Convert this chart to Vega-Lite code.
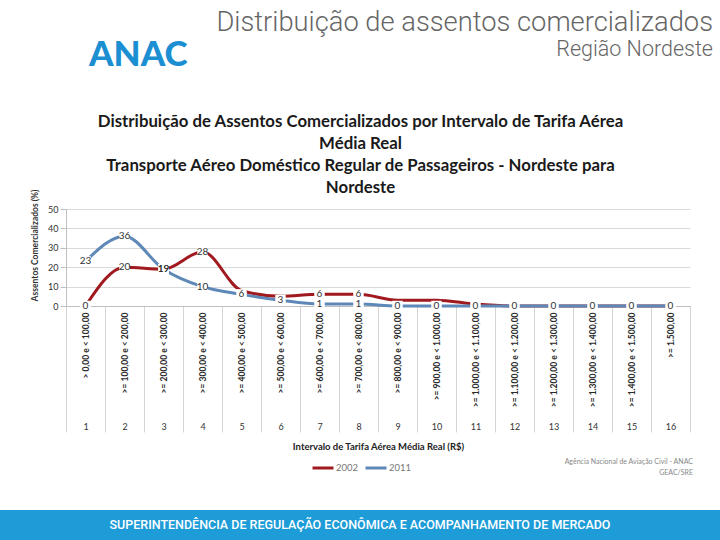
{
  "$schema": "https://vega.github.io/schema/vega-lite/v6.json",
  "autosize": {"type": "pad"},
  "padding": {"left": 0, "top": 9, "right": 0, "bottom": 0},
  "background": "white",
  "bounds": "flush",
  "spacing": 301,
  "title": {
    "text": "Distribuição de assentos comercializados",
    "subtitle": "Região Nordeste",
    "anchor": "end",
    "frame": "bounds",
    "font": "Roboto",
    "fontSize": 27.3,
    "fontWeight": 300,
    "color": "#666666",
    "subtitleFont": "Roboto",
    "subtitleFontSize": 21.5,
    "subtitleFontWeight": 300,
    "subtitleColor": "#666666",
    "subtitlePadding": 3,
    "offset": -23,
    "dx": -7
  },
  "datasets": {
    "assentos": [
      {"n": 1, "faixa": "> 0,00 e < 100,00", "ano": "2002", "valor": 0},
      {"n": 2, "faixa": ">= 100,00 e < 200,00", "ano": "2002", "valor": 20},
      {"n": 3, "faixa": ">= 200,00 e < 300,00", "ano": "2002", "valor": 19},
      {"n": 4, "faixa": ">= 300,00 e < 400,00", "ano": "2002", "valor": 28},
      {"n": 5, "faixa": ">= 400,00 e < 500,00", "ano": "2002", "valor": 8},
      {"n": 6, "faixa": ">= 500,00 e < 600,00", "ano": "2002", "valor": 5},
      {"n": 7, "faixa": ">= 600,00 e < 700,00", "ano": "2002", "valor": 6},
      {"n": 8, "faixa": ">= 700,00 e < 800,00", "ano": "2002", "valor": 6},
      {"n": 9, "faixa": ">= 800,00 e < 900,00", "ano": "2002", "valor": 3},
      {"n": 10, "faixa": ">= 900,00 e < 1.000,00", "ano": "2002", "valor": 3},
      {"n": 11, "faixa": ">= 1.000,00 e < 1.100,00", "ano": "2002", "valor": 1},
      {"n": 12, "faixa": ">= 1.100,00 e < 1.200,00", "ano": "2002", "valor": 0},
      {"n": 13, "faixa": ">= 1.200,00 e < 1.300,00", "ano": "2002", "valor": 0},
      {"n": 14, "faixa": ">= 1.300,00 e < 1.400,00", "ano": "2002", "valor": 0},
      {"n": 15, "faixa": ">= 1.400,00 e < 1.500,00", "ano": "2002", "valor": 0},
      {"n": 16, "faixa": ">= 1.500,00", "ano": "2002", "valor": 0},
      {"n": 1, "faixa": "> 0,00 e < 100,00", "ano": "2011", "valor": 23},
      {"n": 2, "faixa": ">= 100,00 e < 200,00", "ano": "2011", "valor": 36},
      {"n": 3, "faixa": ">= 200,00 e < 300,00", "ano": "2011", "valor": 19},
      {"n": 4, "faixa": ">= 300,00 e < 400,00", "ano": "2011", "valor": 10},
      {"n": 5, "faixa": ">= 400,00 e < 500,00", "ano": "2011", "valor": 6},
      {"n": 6, "faixa": ">= 500,00 e < 600,00", "ano": "2011", "valor": 3},
      {"n": 7, "faixa": ">= 600,00 e < 700,00", "ano": "2011", "valor": 1},
      {"n": 8, "faixa": ">= 700,00 e < 800,00", "ano": "2011", "valor": 1},
      {"n": 9, "faixa": ">= 800,00 e < 900,00", "ano": "2011", "valor": 0},
      {"n": 10, "faixa": ">= 900,00 e < 1.000,00", "ano": "2011", "valor": 0},
      {"n": 11, "faixa": ">= 1.000,00 e < 1.100,00", "ano": "2011", "valor": 0},
      {"n": 12, "faixa": ">= 1.100,00 e < 1.200,00", "ano": "2011", "valor": 0},
      {"n": 13, "faixa": ">= 1.200,00 e < 1.300,00", "ano": "2011", "valor": 0},
      {"n": 14, "faixa": ">= 1.300,00 e < 1.400,00", "ano": "2011", "valor": 0},
      {"n": 15, "faixa": ">= 1.400,00 e < 1.500,00", "ano": "2011", "valor": 0},
      {"n": 16, "faixa": ">= 1.500,00", "ano": "2011", "valor": 0}
    ]
  },
  "resolve": {"scale": {"color": "independent"}, "legend": {"color": "independent"}},
  "vconcat": [
    {
      "bounds": "flush",
      "spacing": 10,
      "resolve": {"scale": {"color": "independent"}, "legend": {"color": "independent"}},
      "hconcat": [
        {
          "width": 56,
          "height": 97,
          "view": {"stroke": null},
          "title": {
            "text": "ANAC",
            "anchor": "start",
            "frame": "group",
            "font": "Lato",
            "fontSize": 35,
            "fontWeight": 900,
            "color": "#1B8FD2",
            "offset": 136,
            "dx": 89
          },
          "data": {"values": []},
          "mark": "point",
          "encoding": {}
        },
        {
          "width": 624,
          "height": 97,
          "view": {"stroke": null},
          "title": {
            "text": [
              "Distribuição de Assentos Comercializados por Intervalo de Tarifa Aérea",
              "Média Real",
              "Transporte Aéreo Doméstico Regular de Passageiros - Nordeste para",
              "Nordeste"
            ],
            "font": "Lato",
            "fontSize": 16.8,
            "fontWeight": "bold",
            "color": "#1a1a1a",
            "anchor": "middle",
            "frame": "bounds",
            "lineHeight": 22,
            "offset": -8
          },
          "data": {"name": "assentos"},
          "encoding": {
            "y": {
              "field": "valor",
              "type": "quantitative",
              "scale": {"domain": [0, 50]},
              "axis": {
                "values": [0, 10, 20, 30, 40, 50],
                "labelOverlap": false,
                "title": "Assentos Comercializados (%)",
                "titleFont": "Lato",
                "titleFontSize": 8.5,
                "titleFontWeight": "bold",
                "titleColor": "#333333",
                "titlePadding": 8,
                "titleY": 36,
                "labelFont": "Lato",
                "labelFontSize": 9,
                "labelColor": "#333333",
                "labelPadding": 2,
                "tickSize": 6,
                "tickColor": "#bfbfbf",
                "domainColor": "#bfbfbf",
                "gridColor": "#d9d9d9"
              }
            }
          },
          "resolve": {"scale": {"x": "independent"}, "axis": {"x": "independent"}},
          "layer": [
            {
              "mark": {"type": "line", "strokeWidth": 3, "interpolate": "monotone"},
              "encoding": {
                "x": {
                  "field": "n",
                  "type": "ordinal",
                  "scale": {"type": "band", "paddingInner": 0, "paddingOuter": 0},
                  "axis": {
                    "orient": "bottom",
                    "title": "Intervalo de Tarifa Aérea Média Real (R$)",
                    "titleFont": "Lato",
                    "titleFontSize": 9.5,
                    "titleFontWeight": "bold",
                    "titleColor": "#222222",
                    "titlePadding": 9,
                    "labelAngle": 0,
                    "labelFont": "Lato",
                    "labelFontSize": 9,
                    "labelColor": "#333333",
                    "labelPadding": -10,
                    "tickBand": "extent",
                    "tickSize": 126,
                    "tickColor": "#d4d4d4",
                    "domainColor": "#bfbfbf",
                    "grid": false
                  }
                },
                "color": {
                  "field": "ano",
                  "type": "nominal",
                  "scale": {"domain": ["2002", "2011"], "range": ["#A0191F", "#5E88B7"]},
                  "legend": {
                    "title": null,
                    "orient": "none",
                    "legendX": 245,
                    "legendY": 247,
                    "direction": "horizontal",
                    "symbolType": "stroke",
                    "symbolStrokeWidth": 3,
                    "symbolSize": 440,
                    "labelFont": "Lato",
                    "labelFontSize": 9.5,
                    "labelColor": "#777777",
                    "columnPadding": 0,
                    "labelOffset": 1
                  }
                }
              }
            },
            {
              "transform": [
                {"filter": "datum.ano == '2011' || datum.n <= 4 || datum.n == 7 || datum.n == 8"}
              ],
              "encoding": {
                "x": {
                  "field": "faixa",
                  "type": "ordinal",
                  "sort": {"field": "n", "op": "min"},
                  "scale": {"type": "band", "paddingInner": 0, "paddingOuter": 0},
                  "axis": {
                    "orient": "bottom",
                    "title": null,
                    "labelAngle": -90,
                    "labelAlign": "right",
                    "labelBaseline": "middle",
                    "labelFont": "Lato",
                    "labelFontSize": 8.5,
                    "labelFontWeight": "bold",
                    "labelColor": "#2a2a2a",
                    "labelPadding": 6,
                    "labelLimit": 0,
                    "labelOverlap": false,
                    "ticks": false,
                    "domain": false,
                    "grid": false
                  }
                }
              },
              "layer": [
                {"mark": {"type": "point", "shape": "square", "filled": true, "color": "white", "opacity": 1, "size": 110}},
                {
                  "mark": {"type": "text", "fontSize": 10, "color": "#333333", "font": "Lato"},
                  "encoding": {"text": {"field": "valor", "type": "quantitative"}}
                }
              ]
            }
          ]
        }
      ]
    },
    {
      "width": 720,
      "height": 30,
      "view": {"fill": "#1D9CD8", "stroke": null},
      "title": {
        "text": ["Agência Nacional de Aviação Civil - ANAC", "GEAC/SRE"],
        "anchor": "end",
        "frame": "group",
        "font": "Lato",
        "fontSize": 7,
        "fontWeight": "normal",
        "color": "#888888",
        "lineHeight": 11,
        "offset": 34,
        "dx": -27
      },
      "data": {"values": [{"t": "SUPERINTENDÊNCIA DE REGULAÇÃO ECONÔMICA E ACOMPANHAMENTO DE MERCADO"}]},
      "mark": {"type": "text", "color": "white", "font": "Roboto", "fontSize": 12.5, "fontWeight": 500, "baseline": "middle"},
      "encoding": {"text": {"field": "t", "type": "nominal"}}
    }
  ]
}
